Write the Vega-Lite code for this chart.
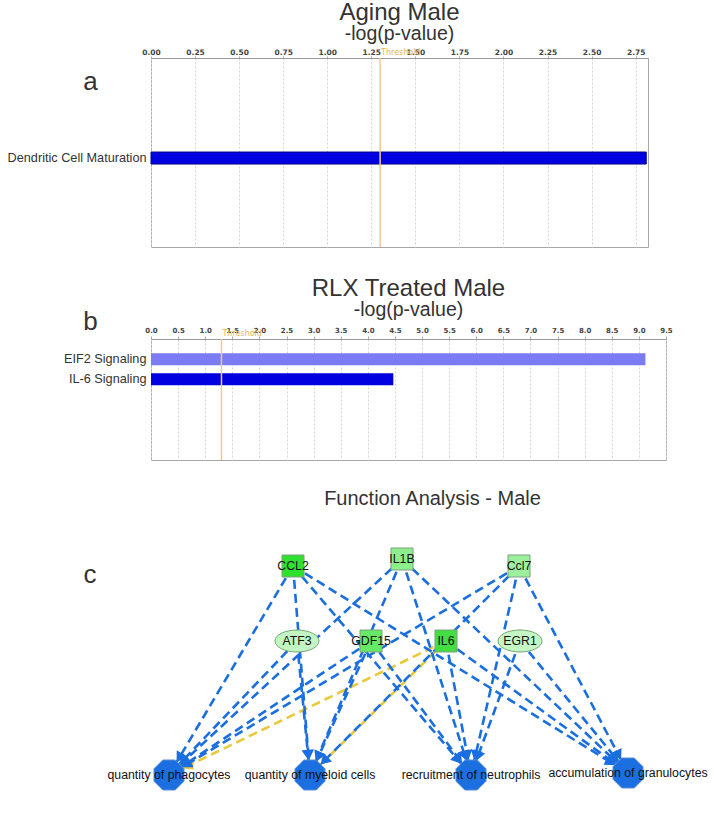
{
  "$schema": "https://vega.github.io/schema/vega-lite/v6.json",
  "background": "white",
  "padding": {"left": 6, "top": 0, "right": 0, "bottom": 0},
  "spacing": 27,
  "resolve": {"scale": {"color": "independent"}},
  "config": {
    "font": "Liberation Sans",
    "title": {"fontSize": 20, "fontWeight": "normal", "color": "#333333", "subtitleFontSize": 17, "subtitleColor": "#333333", "subtitlePadding": 1.5, "offset": 6, "anchor": "middle"},
    "view": {"stroke": "#a8a8a8"},
    "axis": {"labelOverlap": false, "labelSeparation": 0}
  },
  "datasets": {
    "aging": [{"pathway": "Dendritic Cell Maturation", "logp": 2.81}],
    "rlx": [{"pathway": "EIF2 Signaling", "logp": 9.12}, {"pathway": "IL-6 Signaling", "logp": 4.47}],
    "threshold": [{"threshold": 1.3, "label": "Threshold"}],
    "nodes": [
      {"id": "CCL2", "label": "CCL2", "kind": "gene-square", "x": 142, "y": 51},
      {"id": "IL1B", "label": "IL1B", "kind": "gene-square", "x": 251, "y": 44},
      {"id": "Ccl7", "label": "Ccl7", "kind": "gene-square", "x": 368, "y": 51},
      {"id": "ATF3", "label": "ATF3", "kind": "gene-ellipse", "x": 146, "y": 126},
      {"id": "GDF15", "label": "GDF15", "kind": "gene-square", "x": 220, "y": 126},
      {"id": "IL6", "label": "IL6", "kind": "gene-square", "x": 295, "y": 126},
      {"id": "EGR1", "label": "EGR1", "kind": "gene-ellipse", "x": 369, "y": 126},
      {"id": "phago", "label": "quantity of phagocytes", "kind": "function", "x": 18, "y": 260},
      {"id": "myeloid", "label": "quantity of myeloid cells", "kind": "function", "x": 159, "y": 260},
      {"id": "neutro", "label": "recruitment of neutrophils", "kind": "function", "x": 320, "y": 260},
      {"id": "granulo", "label": "accumulation of granulocytes", "kind": "function", "x": 477, "y": 258}
    ],
    "edges": [
      {"source": "IL6", "target": "phago", "relation": "inconsistent"},
      {"source": "IL6", "target": "myeloid", "relation": "inconsistent"},
      {"source": "CCL2", "target": "phago", "relation": "activation"},
      {"source": "CCL2", "target": "myeloid", "relation": "activation"},
      {"source": "CCL2", "target": "neutro", "relation": "activation"},
      {"source": "CCL2", "target": "granulo", "relation": "activation"},
      {"source": "IL1B", "target": "phago", "relation": "activation"},
      {"source": "IL1B", "target": "myeloid", "relation": "activation"},
      {"source": "IL1B", "target": "neutro", "relation": "activation"},
      {"source": "IL1B", "target": "granulo", "relation": "activation"},
      {"source": "Ccl7", "target": "phago", "relation": "activation"},
      {"source": "Ccl7", "target": "myeloid", "relation": "activation"},
      {"source": "Ccl7", "target": "neutro", "relation": "activation"},
      {"source": "Ccl7", "target": "granulo", "relation": "activation"},
      {"source": "ATF3", "target": "phago", "relation": "activation"},
      {"source": "ATF3", "target": "myeloid", "relation": "activation"},
      {"source": "GDF15", "target": "phago", "relation": "activation"},
      {"source": "GDF15", "target": "myeloid", "relation": "activation"},
      {"source": "GDF15", "target": "neutro", "relation": "activation"},
      {"source": "IL6", "target": "neutro", "relation": "activation"},
      {"source": "IL6", "target": "granulo", "relation": "activation"},
      {"source": "EGR1", "target": "neutro", "relation": "activation"},
      {"source": "EGR1", "target": "granulo", "relation": "activation"}
    ],
    "panelc": [{"letter": "c", "x": -61, "y": 60}]
  },
  "vconcat": [
    {
      "width": 497,
      "height": 189,
      "title": {"text": "Aging Male", "subtitle": "-log(p-value)", "fontSize": 24, "subtitleFontSize": 19.5, "subtitlePadding": 0, "offset": 5},
      "layer": [
        {
          "data": {"name": "aging"},
          "mark": {"type": "bar", "size": 12, "color": "#0000e0", "stroke": "#00008c", "strokeWidth": 1},
          "encoding": {
            "y": {"field": "pathway", "type": "nominal", "sort": null, "scale": {"paddingInner": 0, "paddingOuter": 1, "align": 0.544},
              "axis": {"title": "a", "titleAngle": 0, "titleFontSize": 26, "titleFontWeight": "normal", "titleColor": "#333333", "titleX": -61, "titleY": 23, "titleAlign": "center", "titleBaseline": "middle", "labelFontSize": 12.7, "labelColor": "#333333", "ticks": false, "domain": false, "labelPadding": 5, "grid": false}},
            "x": {"field": "logp", "type": "quantitative", "scale": {"domain": [0, 2.82], "nice": false, "zero": true},
              "axis": {"orient": "top", "title": null, "values": [0, 0.25, 0.5, 0.75, 1, 1.25, 1.5, 1.75, 2, 2.25, 2.5, 2.75], "tickCount": 12, "format": ".2f", "labelFont": "DejaVu Sans", "labelFontSize": 7.5, "labelFontWeight": "bold", "labelColor": "#444444", "labelFlush": false, "labelOverlap": false, "labelPadding": 0, "tickColor": "#aaaaaa", "tickSize": 2, "domainColor": "#999999", "grid": true, "gridColor": "#d4d4d4", "gridDash": [2, 2]}}
          }
        },
        {
          "data": {"name": "threshold"},
          "mark": {"type": "rule", "color": "#f3c98e", "strokeWidth": 1.5},
          "encoding": {"x": {"field": "threshold", "type": "quantitative"}}
        },
        {
          "data": {"name": "threshold"},
          "mark": {"type": "text", "color": "#e9b54d", "font": "DejaVu Sans", "fontSize": 8, "align": "left", "baseline": "bottom", "dx": 1, "dy": -1},
          "encoding": {"x": {"field": "threshold", "type": "quantitative"}, "y": {"value": 0}, "text": {"field": "label"}}
        }
      ]
    },
    {
      "width": 515,
      "height": 121,
      "title": {"text": "RLX Treated Male", "subtitle": "-log(p-value)", "fontSize": 24, "subtitleFontSize": 19.5, "subtitlePadding": 0, "offset": -11.5},
      "layer": [
        {
          "data": {"name": "rlx"},
          "mark": {"type": "bar", "size": 12},
          "encoding": {
            "y": {"field": "pathway", "type": "nominal", "sort": null, "scale": {"domain": ["EIF2 Signaling", "IL-6 Signaling", " ", "  ", "   "], "paddingInner": 0, "paddingOuter": 0.5},
              "axis": {"title": "b", "titleAngle": 0, "titleFontSize": 26, "titleFontWeight": "normal", "titleColor": "#333333", "titleX": -61, "titleY": -18, "titleAlign": "center", "titleBaseline": "middle", "labelFontSize": 12.7, "labelColor": "#333333", "ticks": false, "domain": false, "labelPadding": 5, "grid": false}},
            "x": {"field": "logp", "type": "quantitative", "scale": {"domain": [0, 9.5], "nice": false},
              "axis": {"orient": "top", "title": null, "values": [0, 0.5, 1, 1.5, 2, 2.5, 3, 3.5, 4, 4.5, 5, 5.5, 6, 6.5, 7, 7.5, 8, 8.5, 9, 9.5], "tickCount": 20, "format": ".1f", "labelFont": "DejaVu Sans", "labelFontSize": 7, "labelFontWeight": "bold", "labelColor": "#444444", "labelFlush": false, "labelOverlap": false, "labelSeparation": 0, "labelPadding": 3, "tickColor": "#aaaaaa", "tickSize": 3, "domainColor": "#999999", "grid": true, "gridColor": "#d4d4d4", "gridDash": [2, 2]}},
            "color": {"field": "pathway", "type": "nominal", "scale": {"domain": ["EIF2 Signaling", "IL-6 Signaling"], "range": ["#7b7bf3", "#0000e0"]}, "legend": null}
          }
        },
        {
          "data": {"name": "threshold"},
          "mark": {"type": "rule", "color": "#f3c98e", "strokeWidth": 1.5},
          "encoding": {"x": {"field": "threshold", "type": "quantitative"}}
        },
        {
          "data": {"name": "threshold"},
          "mark": {"type": "text", "color": "#e9b54d", "font": "DejaVu Sans", "fontSize": 8, "align": "left", "baseline": "bottom", "dx": 1, "dy": -1},
          "encoding": {"x": {"field": "threshold", "type": "quantitative"}, "y": {"value": 0}, "text": {"field": "label"}}
        }
      ]
    },
    {
      "width": 563,
      "height": 290,
      "title": {"text": "Function Analysis - Male", "offset": 6},
      "view": {"stroke": null},
      "layer": [
        {
          "data": {"name": "edges"},
          "transform": [
            {"lookup": "source", "from": {"data": {"name": "nodes"}, "key": "id", "fields": ["x", "y"]}, "as": ["sx", "sy"]},
            {"lookup": "target", "from": {"data": {"name": "nodes"}, "key": "id", "fields": ["x", "y"]}, "as": ["tx", "ty"]}
          ],
          "mark": {"type": "rule", "strokeDash": [9, 5], "strokeWidth": 2.6},
          "encoding": {
            "x": {"field": "sx", "type": "quantitative", "scale": {"domain": [0, 563], "nice": false, "zero": false}, "axis": null},
            "y": {"field": "sy", "type": "quantitative", "scale": {"domain": [0, 290], "nice": false, "zero": false, "reverse": true}, "axis": null},
            "x2": {"field": "tx"},
            "y2": {"field": "ty"},
            "color": {"field": "relation", "type": "nominal", "scale": {"domain": ["activation", "inconsistent"], "range": ["#1a6ee0", "#e8c93a"]}, "legend": null}
          }
        },
        {
          "data": {"name": "edges"},
          "transform": [
            {"lookup": "source", "from": {"data": {"name": "nodes"}, "key": "id", "fields": ["x", "y"]}, "as": ["sx", "sy"]},
            {"lookup": "target", "from": {"data": {"name": "nodes"}, "key": "id", "fields": ["x", "y"]}, "as": ["tx", "ty"]},
            {"calculate": "datum.tx - datum.sx", "as": "dx"},
            {"calculate": "datum.ty - datum.sy", "as": "dy"},
            {"calculate": "sqrt(datum.dx * datum.dx + datum.dy * datum.dy)", "as": "len"},
            {"calculate": "datum.tx - 20 * datum.dx / datum.len", "as": "ax"},
            {"calculate": "datum.ty - 20 * datum.dy / datum.len", "as": "ay"},
            {"calculate": "atan2(datum.dx, -datum.dy) * 180 / PI", "as": "ang"}
          ],
          "mark": {"type": "point", "shape": "triangle-up", "filled": true, "size": 140, "opacity": 1},
          "encoding": {
            "x": {"field": "ax", "type": "quantitative"},
            "y": {"field": "ay", "type": "quantitative"},
            "angle": {"field": "ang", "type": "quantitative", "scale": null},
            "color": {"field": "relation", "type": "nominal", "legend": null}
          }
        },
        {
          "data": {"name": "nodes"},
          "mark": {"type": "point", "filled": true, "opacity": 1, "strokeWidth": 1},
          "encoding": {
            "x": {"field": "x", "type": "quantitative"},
            "y": {"field": "y", "type": "quantitative"},
            "shape": {"field": "kind", "type": "nominal", "scale": {"domain": ["gene-square", "gene-ellipse", "function"], "range": ["square", "M-1,0A1,0.5,0,1,1,1,0A1,0.5,0,1,1,-1,0Z", "M0.383,-0.924L0.924,-0.383L0.924,0.383L0.383,0.924L-0.383,0.924L-0.924,0.383L-0.924,-0.383L-0.383,-0.924Z"]}, "legend": null},
            "size": {"condition": [{"test": "datum.kind === 'function'", "value": 1056}, {"test": "datum.kind === 'gene-ellipse'", "value": 1936}], "value": 484},
            "stroke": {"condition": [{"test": "datum.kind === 'function'", "value": "#5d8fd8"}, {"test": "datum.kind === 'gene-ellipse'", "value": "#72a872"}], "value": "#7f9f7f"},
            "fill": {"field": "id", "type": "nominal", "scale": {"domain": ["CCL2", "IL1B", "Ccl7", "ATF3", "GDF15", "IL6", "EGR1", "phago", "myeloid", "neutro", "granulo"], "range": ["#2fe02f", "#8cee8c", "#9cef9c", "#c3f5c3", "#64ea64", "#42de42", "#c6f5c6", "#1b6fe0", "#1b6fe0", "#1b6fe0", "#1b6fe0"]}, "legend": null}
          }
        },
        {
          "data": {"name": "nodes"},
          "mark": {"type": "text", "fontSize": 12.3, "color": "#111111", "align": "center", "baseline": "middle"},
          "encoding": {
            "x": {"field": "x", "type": "quantitative"},
            "y": {"field": "y", "type": "quantitative"},
            "text": {"field": "label"}
          }
        },
        {
          "data": {"name": "panelc"},
          "mark": {"type": "text", "fontSize": 26, "color": "#333333", "align": "center", "baseline": "middle"},
          "encoding": {
            "x": {"field": "x", "type": "quantitative"},
            "y": {"field": "y", "type": "quantitative"},
            "text": {"field": "letter"}
          }
        }
      ]
    }
  ]
}
